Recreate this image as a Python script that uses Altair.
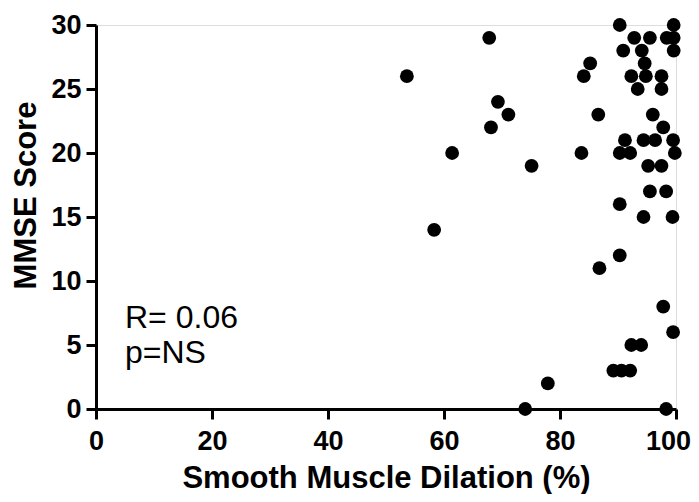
import altair as alt
import pandas as pd

# Data
dilation = [53.6, 58.3, 61.4, 67.8, 68.1, 69.3, 71.1, 74.0, 75.1, 77.9,
            83.7, 84.1, 85.2, 86.6, 86.8, 90.3, 99.6, 92.8, 95.5, 98.4,
            99.6, 90.9, 94.1, 99.6, 94.6, 92.3, 94.8, 97.5, 93.4, 97.5,
            96.0, 97.8, 91.2, 94.4, 96.4, 99.5, 90.3, 92.1, 99.8, 95.2,
            97.5, 95.5, 98.3, 90.3, 94.4, 99.4, 90.3, 97.8, 99.5, 92.3,
            94.0, 89.2, 90.6, 92.1, 98.3]
mmse = [26, 14, 20, 29, 22, 24, 23, 0, 19, 2,
        20, 26, 27, 23, 11, 30, 30, 29, 29, 29,
        29, 28, 28, 28, 27, 26, 26, 26, 25, 25,
        23, 22, 21, 21, 21, 21, 20, 20, 20, 19,
        19, 17, 17, 16, 15, 15, 12, 8, 6, 5,
        5, 3, 3, 3, 0]

x_ticks = [0, 20, 40, 60, 80, 100]
y_ticks = [0, 5, 10, 15, 20, 25, 30]

ann_text = ["R= 0.06", "p=NS"]
ann_x = [5, 5]
ann_y = [6.33, 3.6]

df = pd.DataFrame({"x": dilation, "y": mmse})
ann = pd.DataFrame({"x": ann_x, "y": ann_y, "t": ann_text})

label_font = "Liberation Sans"
title_font = "Liberation Sans"

xscale = alt.Scale(domain=[0, 100], nice=False, zero=False)
yscale = alt.Scale(domain=[0, 30], nice=False, zero=False)

xaxis = alt.Axis(
    title="Smooth Muscle Dilation (%)", values=x_ticks, grid=False,
    domainColor="black", domainWidth=3, tickColor="black", tickWidth=3, tickSize=10,
    labelFont=label_font, labelFontWeight="bold", labelFontSize=27, labelColor="black",
    labelPadding=9, labelFlush=False,
    labelOffset={"expr": "datum.value == 100 ? -8 : 0"},
    titleFont=title_font, titleFontWeight="bold", titleFontSize=31, titleColor="black",
    titleY=78, titleBaseline="alphabetic",
)
yaxis = alt.Axis(
    title="MMSE Score", values=y_ticks, grid=False,
    domainColor="black", domainWidth=3, tickColor="black", tickWidth=3, tickSize=10,
    labelFont=label_font, labelFontWeight="bold", labelFontSize=27, labelColor="black",
    labelPadding=5, labelFlush=False,
    titleFont=title_font, titleFontWeight="bold", titleFontSize=31, titleColor="black",
    titleX=-70, titleY=170, titleAngle=270, titleBaseline="middle", titleAlign="center",
)

points = alt.Chart(df).mark_circle(size=190, color="black", opacity=1, clip=False).encode(
    x=alt.X("x:Q", scale=xscale, axis=xaxis),
    y=alt.Y("y:Q", scale=yscale, axis=yaxis),
)

text = alt.Chart(ann).mark_text(
    align="left", baseline="alphabetic", font=title_font, fontSize=32, color="black"
).encode(
    x=alt.X("x:Q", scale=xscale),
    y=alt.Y("y:Q", scale=yscale),
    text="t:N",
)

chart = (points + text).properties(
    width=580, height=384,
    autosize=alt.AutoSizeParams(type="none"),
    padding={"left": 88, "top": 17, "right": 15, "bottom": 85},
).configure_view(stroke=None).configure(background="white")

chart.save("out.html", embed_options={"renderer": "svg", "actions": False})
